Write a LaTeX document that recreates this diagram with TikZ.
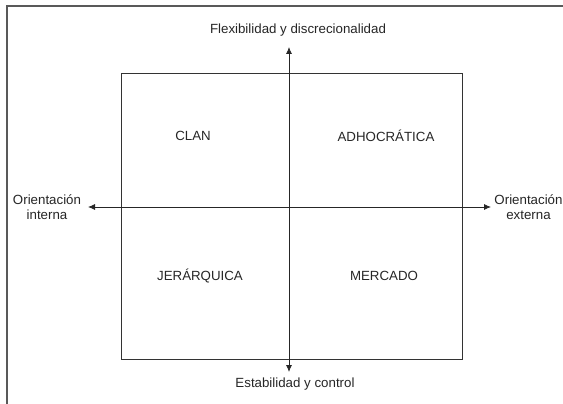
\documentclass[tikz,border=0pt]{standalone}
\usepackage{fontspec}
\setmainfont{Liberation Sans}
\usetikzlibrary{arrows.meta}
\begin{document}
\begin{tikzpicture}[x=1pt,y=-1pt,
  frameline/.style={draw=black!65,line width=1.2pt},
  boxline/.style={draw=black!80,line width=0.8pt},
  axis/.style={draw=black!85,line width=0.8pt,-{Latex[length=7pt,width=6pt]}},
  lbl/.style={font=\fontsize{13.3}{15.5}\selectfont,text=black!85,inner sep=0pt,align=center}]
\useasboundingbox (0,0) rectangle (563,404);
\draw[frameline] (563,6) -- (7,6) -- (7,404);
\node[boxline,minimum width=341pt,minimum height=286pt,inner sep=0pt] (sq) at (291.5,216) {};
\coordinate (c) at (289,207);
\coordinate (top) at (289,47);
\coordinate (bot) at (289,372);
\coordinate (lft) at (88,207);
\coordinate (rgt) at (491,207);
\draw[axis] (c) -- (top);
\draw[axis] (c) -- (bot);
\draw[axis] (c) -- (lft);
\draw[axis] (c) -- (rgt);
\node[lbl] (flex) at (298,30) {Flexibilidad y discrecionalidad};
\node[lbl] (est) at (295,384) {Estabilidad y control};
\node[lbl] (oi) at (47,207) {Orientación\\interna};
\node[lbl] (oe) at (528.5,207) {Orientación\\externa};
\node[lbl] (clan) at (193,136) {CLAN};
\node[lbl] (adh) at (386,136) {ADHOCRÁTICA};
\node[lbl] (jer) at (200,276) {JERÁRQUICA};
\node[lbl] (mer) at (384,276) {MERCADO};
\end{tikzpicture}
\end{document}
